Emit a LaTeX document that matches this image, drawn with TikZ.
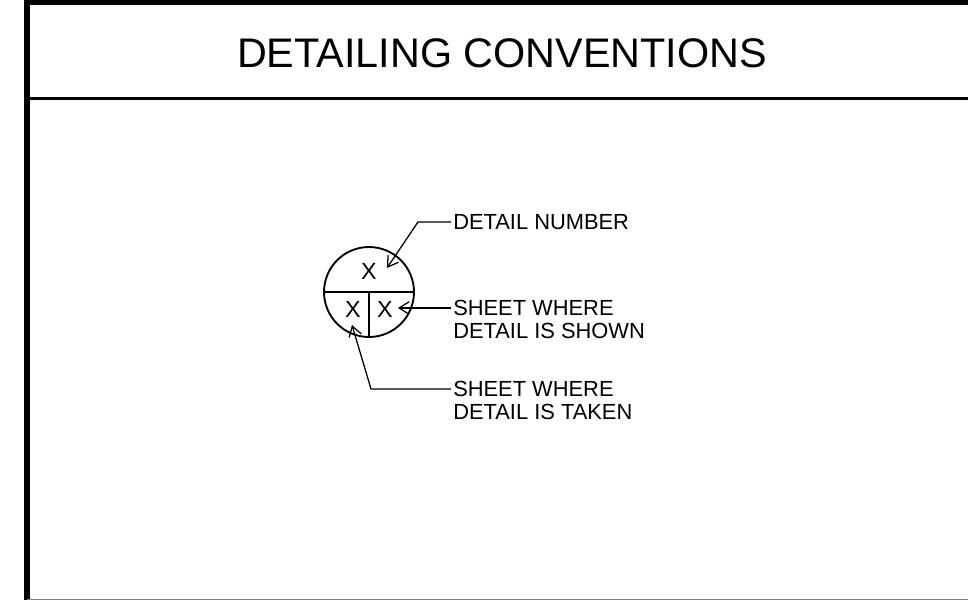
\documentclass[tikz,border=0pt]{standalone}
\usepackage{fontspec}
\setmainfont{Liberation Sans}
\usetikzlibrary{arrows.meta}

\begin{document}
\begin{tikzpicture}[x=0.75pt,y=0.75pt,yscale=-1,xscale=1,
  labeltext/.style={anchor=west,inner sep=1.5pt,font=\fontsize{16.4}{18}\selectfont},
  marktext/.style={inner sep=0pt,font=\fontsize{17.5}{18}\selectfont},
  leader/.style={line width=0.95pt,-{Straight Barb[length=7.5pt,width=9.5pt,line width=0.95pt]}}]
\useasboundingbox (0,0) rectangle (968,600);

%Straight Lines: sheet border
\draw [line width=4.5pt] (27,600) -- (27,0) ;
\draw [line width=3.75pt] (24,2.5) -- (968,2.5) ;
\draw [line width=1.7pt] (27,98.5) -- (968,98.5) ;
\draw [line width=1.2pt, color=black!50] (27,599.4) -- (968,599.4) ;

%Text: title
\node [font=\fontsize{31}{37}\selectfont] (title) at (502,53) {DETAILING CONVENTIONS};

%Shape: Circle
\node [circle, draw, line width=1.4pt, minimum size=67.5pt, inner sep=0pt] (bubble) at (369,292) {};
%Straight Lines
\draw [line width=1.4pt] (bubble.west) -- (bubble.east) ;
\draw [line width=1.4pt] (bubble.center) -- (bubble.south) ;

%Text: marks
\node [marktext] (detno) at (369,271) {X};
\node [marktext] (taken) at (353,309) {X};
\node [marktext] (shown) at (385,309) {X};

%Text: labels
\node [labeltext] (num) at (451,222) {DETAIL NUMBER};
\node [labeltext] (shownA) at (451,308) {SHEET WHERE};
\node [labeltext] (shownB) at (451,331) {DETAIL IS SHOWN};
\node [labeltext] (takenA) at (451,389) {SHEET WHERE};
\node [labeltext] (takenB) at (451,412) {DETAIL IS TAKEN};

%Straight Lines: leaders
\coordinate (numbend) at (418,222);
\coordinate (numtip) at (387,268);
\coordinate (showntip) at (398,308);
\coordinate (takenbend) at (371,389);
\coordinate (takentip) at (352,325);

\draw [leader] (num.west) -- (numbend) -- (numtip) ;
\draw [leader] (shownA.west) -- (showntip) ;
\draw [leader] (takenA.west) -- (takenbend) -- (takentip) ;

\end{tikzpicture}
\end{document}
